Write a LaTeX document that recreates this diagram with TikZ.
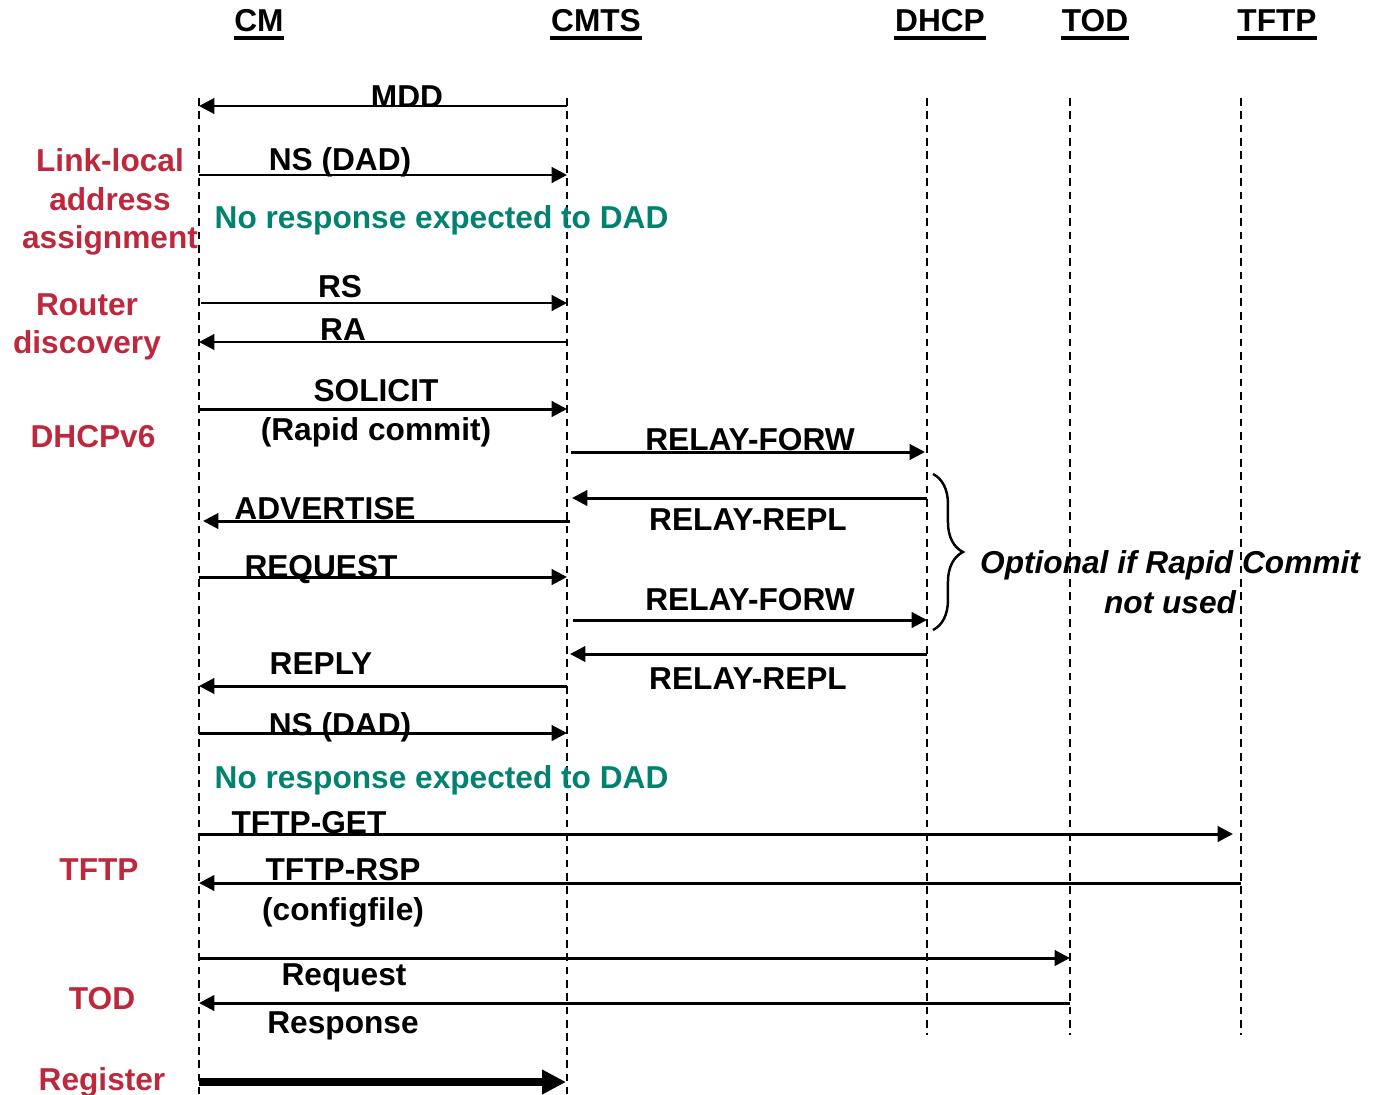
\documentclass[tikz,border=0pt]{standalone}
\usepackage{fontspec}
\setmainfont{Liberation Sans}
\usetikzlibrary{arrows.meta, positioning, calc, decorations.pathreplacing}
\definecolor{phasered}{RGB}{190, 40, 60}
\definecolor{dadgreen}{RGB}{0, 130, 110}

\begin{document}
\begin{tikzpicture}[x=0.01cm, y=-0.01cm,
    font=\fontsize{9}{11}\selectfont\bfseries,
    actor/.style={inner sep=0pt, anchor=base},
    lifeline/.style={line width=0.6pt, dash pattern=on 2.2pt off 1.6pt},
    msg/.style={line width=0.85pt, -{Triangle[length=4.4pt, width=4.4pt]}},
    regmsg/.style={line width=2.3pt, -{Triangle[length=6.8pt, width=6.6pt]}},
    msglabel/.style={inner sep=0pt, anchor=base},
    phase/.style={text=phasered, inner sep=0pt, align=center},
    dadnote/.style={text=dadgreen, inner sep=0pt, anchor=base west}]
    \useasboundingbox (0,0) rectangle (1374,1094);

    % actors
    \node[actor] (cm) at (259,32) {CM};
    \node[actor] (cmts) at (596,32) {CMTS};
    \node[actor] (dhcp) at (940,32) {DHCP};
    \node[actor] (tod) at (1095,32) {TOD};
    \node[actor] (tftp) at (1277,32) {TFTP};
    \foreach \n in {cm, cmts, dhcp, tod, tftp}
        \draw[line width=1.2pt] ([yshift=-1.7pt]\n.base west) -- ([yshift=-1.7pt]\n.base east);

    % lifelines
    \foreach \n/\x/\yb in {cm/199/1094, cmts/567/1094, dhcp/927/1035, tod/1070/1035, tftp/1241/1035} {
        \coordinate (\n-top) at (\x,98);
        \coordinate (\n-bot) at (\x,\yb);
        \draw[lifeline] (\n-top) -- (\n-bot);
    }

    % messages
    \foreach \n/\xa/\xb/\y in {mdd/567/199/106, nsa/199/567/175, rs/201/567/303, ra/567/199/342,
        solicit/199/567/409, forwa/571/925/452, repla/927/572/498, advertise/570/203/521,
        request/199/567/577, forwb/573/927/620, replb/927/570/654, reply/567/199/686,
        nsb/199/567/733, tftpget/199/1233/834, tftprsp/1241/199/883,
        todreq/199/1070/958, todrsp/1070/199/1003} {
        \coordinate (\n-from) at (\xa,\y);
        \coordinate (\n-to) at (\xb,\y);
        \draw[msg] (\n-from) -- (\n-to);
    }
    \coordinate (reg-from) at (199,1082);
    \coordinate (reg-to) at (566,1082);
    \draw[regmsg] (reg-from) -- (reg-to);

    % message labels
    \node[msglabel] (lbl-mdd) at (407,108) {MDD};
    \node[msglabel] (lbl-nsa) at (340,170) {NS (DAD)};
    \node[msglabel] (lbl-rs) at (340,297) {RS};
    \node[msglabel] (lbl-ra) at (343,340) {RA};
    \node[msglabel] (lbl-solicit) at (376,401) {SOLICIT};
    \node[msglabel] (lbl-rapid) at (376,440) {(Rapid commit)};
    \node[msglabel] (lbl-forwa) at (750,450) {RELAY-FORW};
    \node[msglabel] (lbl-repla) at (748,530) {RELAY-REPL};
    \node[msglabel] (lbl-advertise) at (325,519) {ADVERTISE};
    \node[msglabel] (lbl-request) at (321,577) {REQUEST};
    \node[msglabel] (lbl-forwb) at (750,610) {RELAY-FORW};
    \node[msglabel] (lbl-replb) at (748,689) {RELAY-REPL};
    \node[msglabel] (lbl-reply) at (321,674) {REPLY};
    \node[msglabel] (lbl-nsb) at (340,735) {NS (DAD)};
    \node[msglabel] (lbl-tftpget) at (309,833) {TFTP-GET};
    \node[msglabel] (lbl-tftprsp) at (343,880) {TFTP-RSP};
    \node[msglabel] (lbl-config) at (343,920) {(configfile)};
    \node[msglabel] (lbl-todreq) at (344,985) {Request};
    \node[msglabel] (lbl-todrsp) at (343,1033) {Response};

    % DAD notes
    \node[dadnote] (dad-a) at (214,228) {No response expected to DAD};
    \node[dadnote] (dad-b) at (214,788) {No response expected to DAD};

    % phases
    \node[phase] (ph-link) at (110,202) {Link-local\\address\\assignment};
    \node[phase] (ph-router) at (87,327) {Router\\discovery};
    \node[phase, anchor=base] (ph-dhcp) at (93,447) {DHCPv6};
    \node[phase, anchor=base] (ph-tftp) at (99,880) {TFTP};
    \node[phase, anchor=base] (ph-tod) at (102,1009) {TOD};
    \node[phase, anchor=base] (ph-reg) at (102,1090) {Register};

    % optional part
    \coordinate (opt-top) at (933,474);
    \coordinate (opt-bot) at (933,630);
    \draw[line width=0.7pt, decorate, decoration={brace, amplitude=8.5pt}] (opt-top) -- (opt-bot);
    \node[inner sep=0pt, align=center, font=\fontsize{9}{11.4}\selectfont\bfseries\itshape]
        (optnote) at (1170,582) {Optional if Rapid Commit\\not used};
\end{tikzpicture}
\end{document}
